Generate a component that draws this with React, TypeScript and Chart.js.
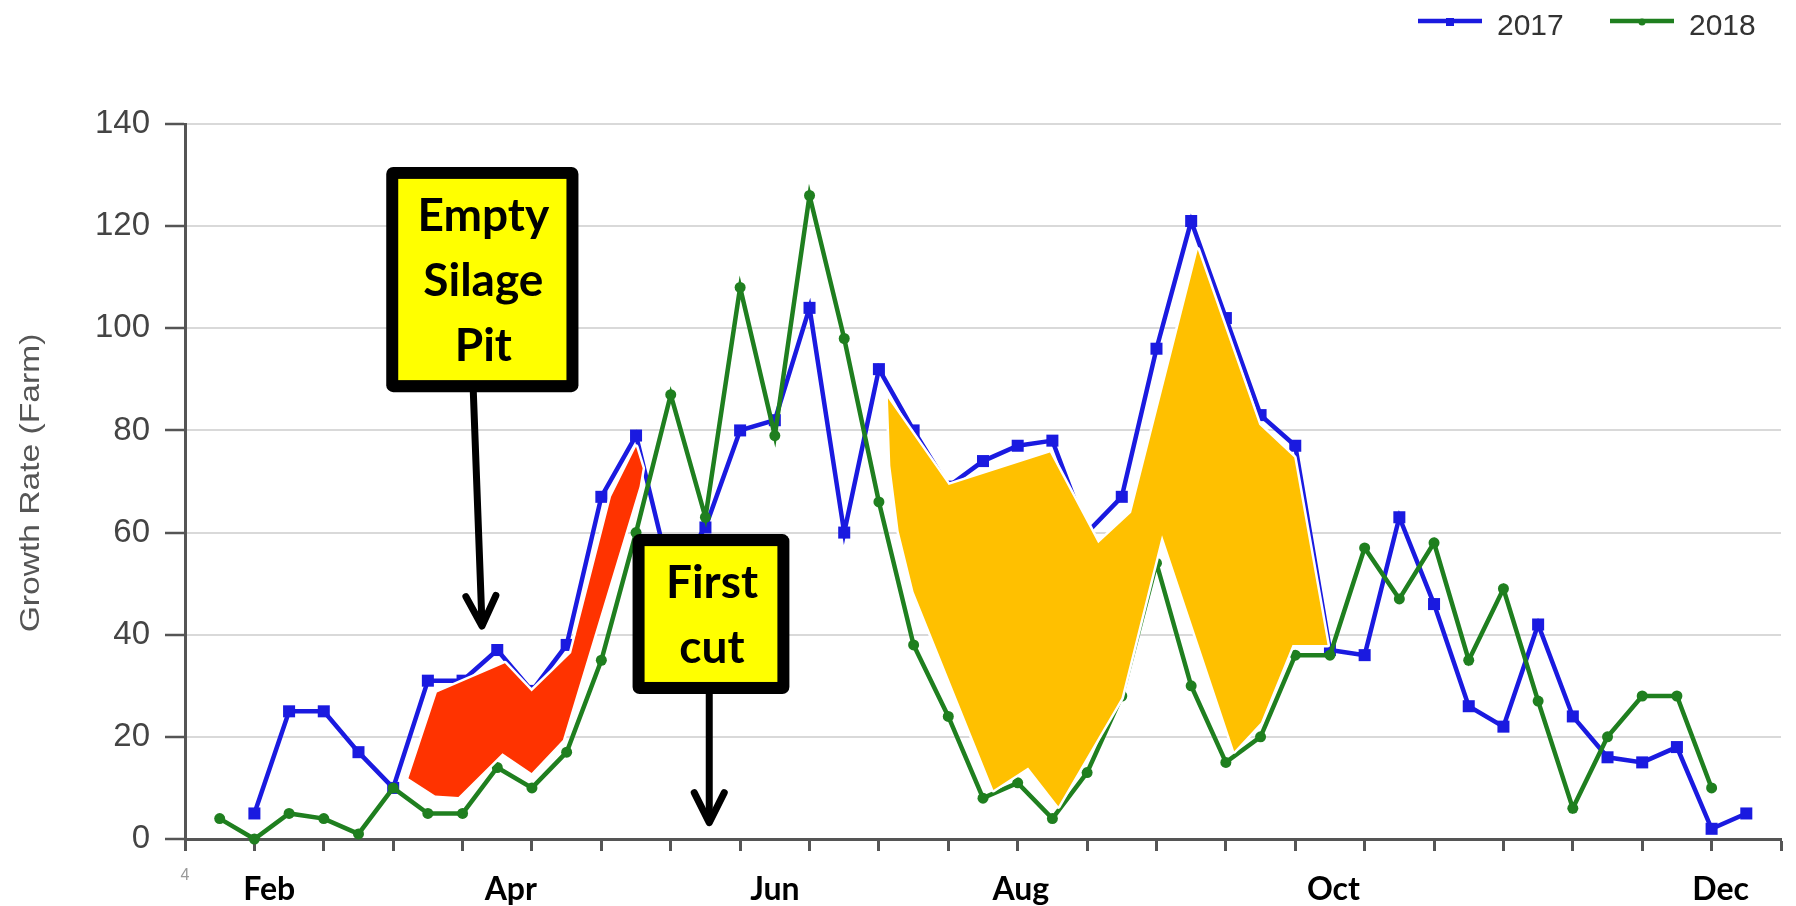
import { useEffect, useRef } from 'react';
import { Chart, registerables } from 'chart.js';

Chart.register(...registerables);

// ---- data (weekly growth rate, week index on x) ----
const start2017 = 1;
const start2018 = 0;
const growth2017 = [
  5, 25, 25, 17, 10, 31, 31, 37, 29, 38, 67, 79, 51, 61, 80, 82, 104, 60, 92, 80, 69, 74,
  77, 78, 60, 67, 96, 121, 102, 83, 77, 37, 36, 63, 46, 26, 22, 42, 24, 16, 15, 18, 2, 5,
];
const growth2018 = [
  4, 0, 5, 4, 1, 10, 5, 5, 14, 10, 17, 35, 60, 87, 63, 108, 79, 126, 98, 66, 38, 24, 8, 11,
  4, 13, 28, 54, 30, 15, 20, 36, 36, 57, 47, 58, 35, 49, 27, 6, 20, 28, 28, 10,
];
const seriesNames = ['2017', '2018'];
const xMin = -1;
const xMax = 45;
const yMin = 0;
const yMax = 140;
const yStep = 20;
const firstTickLabel = '4';
const monthLabels = ['Feb', 'Apr', 'Jun', 'Aug', 'Oct', 'Dec'];
const monthPositions = [1.43, 8.39, 16.0, 23.09, 32.1, 43.26];

// highlighted areas, as [week index, growth] vertices
const silageGapArea: [number, number][] = [
  [5.44, 11.9], [6.21, 8.5], [6.88, 8.2], [8.15, 16.8], [8.99, 12.9], [9.89, 19.4],
  [12.1, 69.0], [12.19, 72.6], [12.0, 76.8], [11.28, 67.0], [10.13, 36.4], [8.99, 28.9],
  [8.22, 34.4], [6.26, 28.7],
];
const summerGapArea: [number, number][] = [
  [19.26, 86.3], [19.33, 73.1], [19.57, 60.3], [20.0, 48.4], [22.3, 9.6], [23.3, 14.0],
  [24.17, 6.4], [25.99, 27.6], [27.16, 59.5], [29.24, 17.2], [30.01, 22.8], [30.92, 38.0],
  [31.93, 38.0], [30.97, 74.7], [29.96, 81.1], [28.19, 115.4], [26.27, 63.9], [25.32, 57.9],
  [23.93, 75.7], [21.01, 69.3],
];

// callout boxes, anchored in data units
const callouts = [
  { lines: ['Empty', 'Silage', 'Pit'], x0: 4.8, x1: 10.34, yTop: 131.6, yBottom: 87.5, from: [7.31, 87.5], to: [7.56, 41.7] },
  { lines: ['First', 'cut'], x0: 11.9, x1: 16.42, yTop: 59.7, yBottom: 28.4, from: [14.11, 28.4], to: [14.11, 3.2] },
];

const BLUE = '#1a1ae0';
const GREEN = '#1f7f1f';
const RED = '#ff3300';
const GOLD = '#ffc000';

const overlayPlugin = {
  id: 'overlay',
  afterDatasetsDraw(chart: any) {
    const { ctx } = chart;
    const xs = chart.scales.x;
    const ys = chart.scales.y;
    const areas: [[number, number][], string][] = [
      [silageGapArea, RED],
      [summerGapArea, GOLD],
    ];
    for (const [pts, color] of areas) {
      ctx.save();
      ctx.beginPath();
      pts.forEach((p, k) => {
        const px = xs.getPixelForValue(p[0]);
        const py = ys.getPixelForValue(p[1]);
        if (k === 0) ctx.moveTo(px, py);
        else ctx.lineTo(px, py);
      });
      ctx.closePath();
      ctx.lineJoin = 'round';
      ctx.strokeStyle = '#ffffff';
      ctx.lineWidth = 5;
      ctx.stroke();
      ctx.fillStyle = color;
      ctx.fill();
      ctx.restore();
    }
  },
  afterDraw(chart: any) {
    const { ctx } = chart;
    const xs = chart.scales.x;
    const ys = chart.scales.y;

    // callouts
    for (const c of callouts) {
      const l = xs.getPixelForValue(c.x0);
      const r = xs.getPixelForValue(c.x1);
      const t = ys.getPixelForValue(c.yTop);
      const b = ys.getPixelForValue(c.yBottom);
      ctx.save();
      // arrow
      const fx = xs.getPixelForValue(c.from[0]);
      const fy = ys.getPixelForValue(c.from[1]);
      const tx = xs.getPixelForValue(c.to[0]);
      const ty = ys.getPixelForValue(c.to[1]);
      ctx.strokeStyle = '#000';
      ctx.lineWidth = 7;
      ctx.lineCap = 'round';
      ctx.lineJoin = 'round';
      ctx.beginPath();
      ctx.moveTo(fx, fy);
      ctx.lineTo(tx, ty - 2);
      ctx.stroke();
      const dx = tx - fx;
      const dy = ty - fy;
      const len = Math.hypot(dx, dy);
      const ux = dx / len;
      const uy = dy / len;
      const back = 30;
      const side = 15;
      ctx.beginPath();
      ctx.moveTo(tx - ux * back - uy * side, ty - uy * back + ux * side);
      ctx.lineTo(tx, ty);
      ctx.lineTo(tx - ux * back + uy * side, ty - uy * back - ux * side);
      ctx.stroke();
      // box
      ctx.fillStyle = '#000';
      ctx.beginPath();
      ctx.roundRect(l, t, r - l, b - t, 7);
      ctx.fill();
      ctx.fillStyle = '#ffff00';
      ctx.fillRect(l + 12, t + 12, r - l - 24, b - t - 24);
      ctx.fillStyle = '#000';
      ctx.font = 'bold 46px Lato, "Open Sans", sans-serif';
      ctx.textAlign = 'center';
      ctx.textBaseline = 'alphabetic';
      c.lines.forEach((line, k) => {
        ctx.fillText(line, (l + r) / 2 + 1, t + 64 + k * 65);
      });
      ctx.restore();
    }

    // month labels
    ctx.save();
    ctx.fillStyle = '#000';
    ctx.font = 'bold 32px Lato, "Open Sans", sans-serif';
    ctx.textAlign = 'center';
    ctx.textBaseline = 'alphabetic';
    monthLabels.forEach((m, k) => {
      ctx.fillText(m, xs.getPixelForValue(monthPositions[k]), 900);
    });
    ctx.restore();

    // y axis title
    ctx.save();
    ctx.translate(39, 483);
    ctx.rotate(-Math.PI / 2);
    ctx.scale(1.2, 1);
    ctx.fillStyle = '#555';
    ctx.font = '28px "Liberation Sans", Arial, sans-serif';
    ctx.textAlign = 'center';
    ctx.textBaseline = 'alphabetic';
    ctx.fillText('Growth Rate (Farm)', 0, 0);
    ctx.restore();

    // legend
    ctx.save();
    const items = [
      { name: seriesNames[0], color: BLUE, x: 1418, style: 'rect' },
      { name: seriesNames[1], color: GREEN, x: 1610, style: 'circle' },
    ];
    for (const it of items) {
      ctx.strokeStyle = it.color;
      ctx.fillStyle = it.color;
      ctx.lineWidth = 4.5;
      ctx.beginPath();
      ctx.moveTo(it.x, 21);
      ctx.lineTo(it.x + 64, 21);
      ctx.stroke();
      ctx.beginPath();
      if (it.style === 'rect') ctx.rect(it.x + 28, 18, 8, 8);
      else ctx.arc(it.x + 32, 22, 3.5, 0, Math.PI * 2);
      ctx.fill();
      ctx.fillStyle = '#333';
      ctx.font = '30px "Liberation Sans", Arial, sans-serif';
      ctx.textAlign = 'left';
      ctx.textBaseline = 'alphabetic';
      ctx.fillText(it.name, it.x + 79, 35);
    }
    ctx.restore();
  },
};

export default function App() {
  const ref = useRef<HTMLCanvasElement>(null);
  useEffect(() => {
    const canvas = ref.current;
    if (!canvas) return;
    const chart = new Chart(canvas, {
      type: 'line',
      data: {
        datasets: [
          {
            label: seriesNames[0],
            data: growth2017.map((v, k) => ({ x: k + start2017, y: v })),
            borderColor: BLUE,
            backgroundColor: BLUE,
            borderWidth: 4.5,
            pointStyle: 'rect',
            pointRadius: 8.5,
            pointBorderWidth: 0,
            tension: 0,
            order: 1,
            clip: 10,
          },
          {
            label: seriesNames[1],
            data: growth2018.map((v, k) => ({ x: k + start2018, y: v })),
            borderColor: GREEN,
            backgroundColor: GREEN,
            borderWidth: 4.5,
            pointStyle: 'circle',
            pointRadius: 5.5,
            pointBorderWidth: 0,
            tension: 0,
            order: 0,
            clip: 10,
          },
        ],
      },
      options: {
        responsive: false,
        animation: false,
        devicePixelRatio: 1,
        layout: { padding: { left: 0, right: 11, top: 124, bottom: 0 } },
        plugins: { legend: { display: false }, tooltip: { enabled: false } },
        scales: {
          x: {
            type: 'linear',
            min: xMin,
            max: xMax,
            afterFit: (s: any) => {
              s.height = 67;
            },
            border: { color: '#555', width: 3 },
            grid: {
              drawOnChartArea: false,
              drawTicks: true,
              tickLength: 12,
              tickColor: '#555',
              tickWidth: 3,
            },
            ticks: {
              stepSize: 2,
              autoSkip: false,
              maxRotation: 0,
              padding: 15,
              color: '#999',
              font: { size: 16, family: '"Liberation Sans", Arial, sans-serif' },
              callback: (v: any) => (Number(v) === xMin ? firstTickLabel : ''),
            },
          },
          y: {
            min: yMin,
            max: yMax,
            afterFit: (s: any) => {
              s.width = 185;
            },
            border: { color: '#555', width: 3 },
            grid: {
              color: '#d9d9d9',
              lineWidth: 2,
              drawTicks: true,
              tickLength: 20,
              tickColor: '#555',
              tickWidth: 2.5,
            },
            ticks: {
              stepSize: yStep,
              padding: 15,
              color: '#444',
              font: { size: 33, family: '"Liberation Sans", Arial, sans-serif' },
            },
          },
        },
      },
      plugins: [overlayPlugin],
    } as any);
    return () => chart.destroy();
  }, []);
  return (
    <div style={{ position: 'absolute', left: 0, top: 0, width: 1796, height: 906, background: '#fff' }}>
      <canvas ref={ref} width={1796} height={906} style={{ width: 1796, height: 906, display: 'block' }} />
    </div>
  );
}
